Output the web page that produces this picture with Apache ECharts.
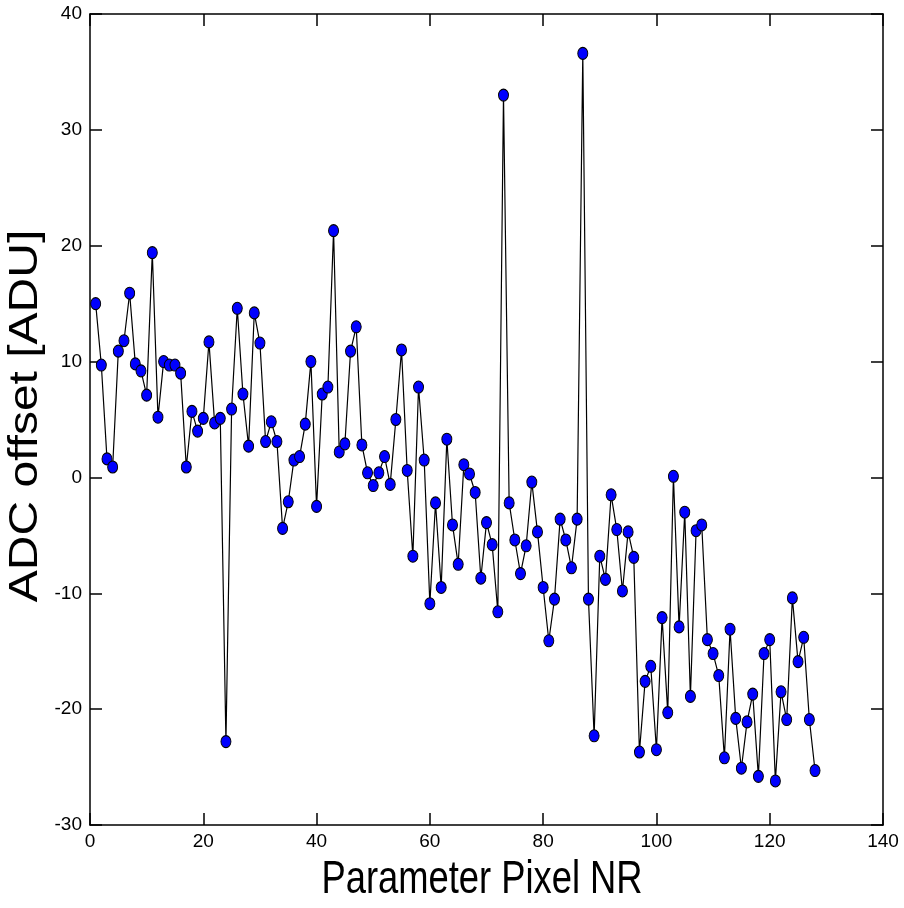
<!DOCTYPE html>
<html>
<head>
<meta charset="utf-8">
<script src="https://cdn.jsdelivr.net/npm/echarts@6/dist/echarts.min.js"></script>
<style>html,body{margin:0;padding:0;background:#fff}#c{width:904px;height:908px}</style>
</head>
<body>
<div id="c"></div>
<script>
const pixelNr = Array.from({length:128},(_,i)=>i+1);
const adcOffset = [
 15.0, 9.7, 1.6, 0.9, 10.9, 11.8, 15.9, 9.8, 9.2, 7.1,
 19.4, 5.2, 10.0, 9.7, 9.7, 9.0, 0.9, 5.7, 4.0, 5.1,
 11.7, 4.7, 5.1, -22.8, 5.9, 14.6, 7.2, 2.7, 14.2, 11.6,
 3.1, 4.8, 3.1, -4.4, -2.1, 1.5, 1.8, 4.6, 10.0, -2.5,
 7.2, 7.8, 21.3, 2.2, 2.9, 10.9, 13.0, 2.8, 0.4, -0.7,
 0.4, 1.8, -0.6, 5.0, 11.0, 0.6, -6.8, 7.8, 1.5, -10.9,
 -2.2, -9.5, 3.3, -4.1, -7.5, 1.1, 0.3, -1.3, -8.7, -3.9,
 -5.8, -11.6, 33.0, -2.2, -5.4, -8.3, -5.9, -0.4, -4.7, -9.5,
 -14.1, -10.5, -3.6, -5.4, -7.8, -3.6, 36.6, -10.5, -22.3, -6.8,
 -8.8, -1.5, -4.5, -9.8, -4.7, -6.9, -23.7, -17.6, -16.3, -23.5,
 -12.1, -20.3, 0.1, -12.9, -3.0, -18.9, -4.6, -4.1, -14.0, -15.2,
 -17.1, -24.2, -13.1, -20.8, -25.1, -21.1, -18.7, -25.8, -15.2, -14.0,
 -26.2, -18.5, -20.9, -10.4, -15.9, -13.8, -20.9, -25.3
];
const xTitle = 'Parameter Pixel NR';
const yTitle = 'ADC offset [ADU]';

const FONT = '"Liberation Sans", Arial, Helvetica, sans-serif';
const chart = echarts.init(document.getElementById('c'), null, {renderer:'canvas'});
const lineStyle = {color:'#000', width:1.5};
const tickLbl = {color:'#000', fontSize:19, fontFamily:FONT};
chart.setOption({
  animation:false,
  backgroundColor:'#fff',
  grid:{left:90, top:14, right:21, bottom:83, containLabel:false, outerBoundsMode:'none'},
  xAxis:[{
    type:'value', min:0, max:140, interval:20, position:'bottom',
    axisLine:{show:true, onZero:false, lineStyle},
    axisTick:{show:true, inside:true, length:12, lineStyle},
    axisLabel:Object.assign({margin:7}, tickLbl),
    splitLine:{show:false}
  },{
    type:'value', min:0, max:140, interval:20, position:'top',
    axisLine:{show:true, onZero:false, lineStyle},
    axisTick:{show:true, inside:true, length:12, lineStyle},
    axisLabel:{show:false}, splitLine:{show:false}
  }],
  yAxis:[{
    type:'value', min:-30, max:40, interval:10, position:'left',
    axisLine:{show:true, onZero:false, lineStyle},
    axisTick:{show:true, inside:true, length:12, lineStyle},
    axisLabel:Object.assign({margin:8}, tickLbl),
    splitLine:{show:false}
  },{
    type:'value', min:-30, max:40, interval:10, position:'right',
    axisLine:{show:true, onZero:false, lineStyle},
    axisTick:{show:true, inside:true, length:12, lineStyle},
    axisLabel:{show:false}, splitLine:{show:false}
  }],
  graphic:[{
    type:'text', x:482, y:880, scaleX:0.79,
    style:{text:xTitle, fontSize:46, fontFamily:FONT, fill:'#000', textAlign:'center', textVerticalAlign:'middle'}
  },{
    type:'text', x:26, y:416, rotation:Math.PI/2, scaleX:1.2,
    style:{text:yTitle, fontSize:40, fontFamily:FONT, fill:'#000', textAlign:'center', textVerticalAlign:'middle'}
  }],
  series:[{
    type:'line',
    data:pixelNr.map((x,i)=>[x, adcOffset[i]]),
    symbol:'circle', symbolSize:[10,12],
    lineStyle:{color:'#000', width:1.2},
    itemStyle:{color:'#0000ff', borderColor:'#000', borderWidth:1},
    emphasis:{disabled:true}
  }]
});
</script>
</body>
</html>
